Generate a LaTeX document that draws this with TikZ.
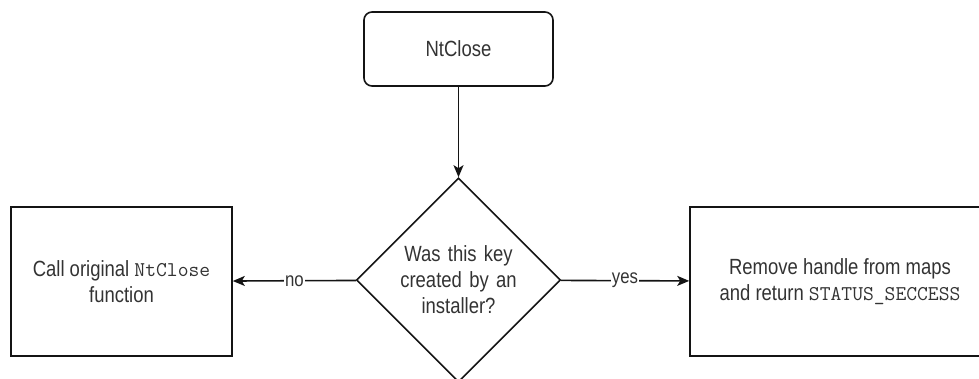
\documentclass[tikz,border=0pt]{standalone}
\usepackage{fontspec}
\setmainfont{Liberation Sans}[FakeStretch=0.84]
\usetikzlibrary{shapes.geometric,arrows.meta}
\definecolor{textgray}{HTML}{333333}
\definecolor{edgeblack}{HTML}{141414}
\begin{document}
\begin{tikzpicture}[x=1pt,y=-1pt,
  every node/.style={font=\fontsize{22}{26}\selectfont, text=textgray},
  shapeline/.style={draw=edgeblack, line width=1.6pt},
  terminal/.style={shapeline, rounded corners=8pt, minimum width=189pt, minimum height=74pt, inner sep=0pt},
  process/.style={shapeline, minimum height=149pt, inner sep=0pt, align=center},
  decide/.style={shapeline, diamond, aspect=1, minimum width=204pt, minimum height=204pt, inner sep=0pt, text width=124pt, align=center},
  code/.style={},
  flow/.style={draw=edgeblack, line width=1.6pt, -{Stealth[length=12pt,width=10pt,inset=3pt]}},
  lbl/.style={fill=white, inner sep=1pt, font=\fontsize{20}{22}\selectfont}
]
\useasboundingbox (0,0) rectangle (979,378);

\node[terminal] (start) at (458.5,49) {NtClose};
\node[decide] (decision) at (458.5,280) {Was this key\\created by an\\installer?};
\node[process, minimum width=221pt] (original) at (121.5,281.5)
  {Call original {\ttfamily\fontsize{21}{26}\selectfont NtClose}\\function};
\node[process, minimum width=300pt] (cleanup) at (840,281.5)
  {Remove handle from maps\\and return {\ttfamily\fontsize{21}{26}\selectfont STATUS\_SECCESS}};

\draw[flow] (start) -- (decision);
\draw[flow] (decision) -- node[lbl] {no} (original);
\draw[flow] (decision) -- node[lbl] {yes} (cleanup);
\end{tikzpicture}
\end{document}
